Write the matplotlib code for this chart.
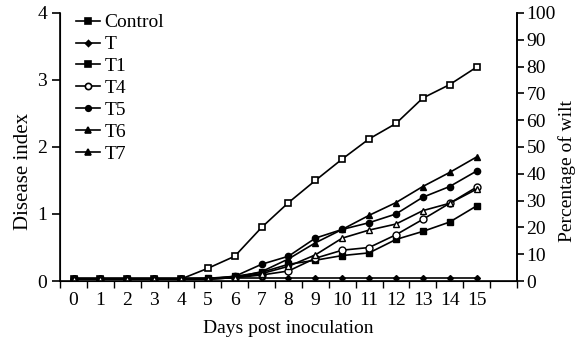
import numpy as np
import matplotlib
matplotlib.use("Agg")
from matplotlib import pyplot as plt
from matplotlib.lines import Line2D

plt.rcParams['font.family'] = ['Liberation Serif', 'DejaVu Serif']
plt.rcParams['font.size'] = 14

# Days and disease index values
days = list(range(16))
control = [0.03, 0.03, 0.03, 0.03, 0.03, 0.19, 0.37, 0.80, 1.17, 1.50, 1.82, 2.12, 2.35, 2.73, 2.93, 3.19]
t = [0.05] * 16
t1 = [0.03, 0.03, 0.03, 0.03, 0.03, 0.04, 0.07, 0.13, 0.25, 0.31, 0.38, 0.42, 0.62, 0.74, 0.88, 1.12]
t4 = [0.03, 0.03, 0.03, 0.03, 0.03, 0.03, 0.05, 0.09, 0.15, 0.34, 0.46, 0.50, 0.69, 0.92, 1.16, 1.40]
t5 = [0.03, 0.03, 0.03, 0.03, 0.03, 0.03, 0.07, 0.25, 0.37, 0.64, 0.77, 0.87, 1.00, 1.25, 1.41, 1.64]
t6 = [0.03, 0.03, 0.03, 0.03, 0.03, 0.03, 0.05, 0.14, 0.33, 0.57, 0.77, 0.98, 1.17, 1.41, 1.62, 1.85]
t7 = [0.03, 0.03, 0.03, 0.03, 0.03, 0.03, 0.05, 0.11, 0.22, 0.39, 0.64, 0.76, 0.85, 1.05, 1.16, 1.37]

fig = plt.figure(figsize=(5.84, 3.39), dpi=100)
ax = fig.add_axes([0.103, 0.171, 0.782, 0.791])

lw = 1.2
ax.plot(days, control, color='black', lw=lw, marker='s', ms=5, mfc='white', mec='black', mew=1.2)
ax.plot(days, t, color='black', lw=lw, marker='D', ms=3)
ax.plot(days, t1, color='black', lw=lw, marker='s', ms=4.5)
ax.plot(days, t4, color='black', lw=lw, marker='o', ms=5, mfc='white')
ax.plot(days, t5, color='black', lw=lw, marker='o', ms=4.5)
ax.plot(days, t6, color='black', lw=lw, marker='^', ms=5)
ax.plot(days, t7, color='black', lw=lw, marker='^', ms=5, mfc='white')

ax.set_xlim(-0.5, 16.5)
ax.set_ylim(0, 4)
ax.set_xticks(days)
ax.set_xticks(np.arange(-0.5, 17, 1), minor=True)
ax.tick_params(axis='x', which='major', length=0, pad=8)
ax.tick_params(axis='x', which='minor', length=5, direction='out', width=1)
ax.set_yticks([0, 1, 2, 3, 4])
ax.tick_params(axis='y', length=6, direction='out', width=1.2)
ax.spines['top'].set_visible(False)
for s in ['left', 'bottom', 'right']:
    ax.spines[s].set_linewidth(1.2)
ax.set_xlabel('Days post inoculation', labelpad=8)
ax.set_ylabel('Disease index', fontsize=15)
ax.yaxis.set_label_coords(-0.06, 0.41)

ax2 = ax.twinx()
ax2.set_ylim(0, 100)
ax2.set_yticks(range(0, 101, 10))
ax2.tick_params(axis='y', length=5, direction='out', width=1.2, pad=2)
ax2.spines['top'].set_visible(False)
ax2.spines['right'].set_linewidth(1.2)
ax2.set_ylabel('Percentage of wilt')
ax2.yaxis.set_label_coords(1.09, 0.41)

# legend shows small filled symbols
names = ['Control', 'T', 'T1', 'T4', 'T5', 'T6', 'T7']
marks = [('s', 5, 'black'), ('D', 3, 'black'), ('s', 4, 'black'), ('o', 4.5, 'white'),
         ('o', 4, 'black'), ('^', 5, 'black'), ('^', 4, 'black')]
handles = [Line2D([], [], color='black', lw=lw, marker=m, ms=s, mfc=f, mew=1.2) for m, s, f in marks]
ax.legend(handles, names, loc='upper left', bbox_to_anchor=(0.01, 1.04), frameon=False,
          handlelength=1.2, handletextpad=0.25, labelspacing=0.22, borderaxespad=0.2, fontsize=14)

fig.savefig('out.png', dpi=100)
